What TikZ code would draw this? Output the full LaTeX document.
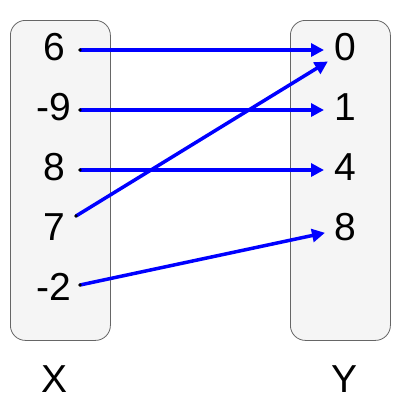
\documentclass[tikz,border=0pt]{standalone}
\usepackage{fontspec}
\setmainfont{Liberation Sans}
\usetikzlibrary{arrows.meta}
\begin{document}
\begin{tikzpicture}[x=1pt,y=-1pt,
  setbox/.style={draw=black!60,fill=black!4,line width=0.8pt,rounded corners=15pt},
  lbl/.style={anchor=base,inner sep=0pt,font=\fontsize{39}{39}\selectfont},
  maparrow/.style={draw=blue,line width=3.5pt,-{Triangle[length=13pt,width=13pt]},shorten >=-1pt},
  startdot/.style={fill=black,draw=none}]
\useasboundingbox (0,0) rectangle (400,400);
\fill[white] (0,0) rectangle (400,400);
\node[setbox,minimum width=100pt,minimum height=320pt,anchor=north west,inner sep=0pt] (setX) at (10,20) {};
\node[setbox,minimum width=100pt,minimum height=320pt,anchor=north west,inner sep=0pt] (setY) at (290,20) {};
% left labels
\node[lbl] (x1) at (54,60) {6};
\node[lbl] (x2) at (54,120) {-9};
\node[lbl] (x3) at (54,180) {8};
\node[lbl] (x4) at (54,240) {7};
\node[lbl] (x5) at (54,300) {-2};
% right labels
\node[lbl] (y1) at (345,60) {0};
\node[lbl] (y2) at (345,120) {1};
\node[lbl] (y3) at (345,180) {4};
\node[lbl] (y4) at (345,240) {8};
% set names
\node[lbl] (nameX) at (55,392) {X};
\node[lbl] (nameY) at (345,392) {Y};
% connector points
\coordinate (s1) at (80,50);
\coordinate (s2) at (80,110);
\coordinate (s3) at (80,170);
\coordinate (s4) at (76,216);
\coordinate (s5) at (80,285);
\coordinate (e1) at (323,50);
\coordinate (e2) at (323,110);
\coordinate (e3) at (323,170);
\coordinate (e4) at (327,62);
\coordinate (e5) at (324,233);
\draw[maparrow] (s1) -- (e1);
\draw[maparrow] (s2) -- (e2);
\draw[maparrow] (s3) -- (e3);
\draw[maparrow] (s4) -- (e4);
\draw[maparrow] (s5) -- (e5);
\foreach \p in {s1,s2,s3,s4,s5} \fill[startdot] (\p) circle (1.8pt);
\end{tikzpicture}
\end{document}
